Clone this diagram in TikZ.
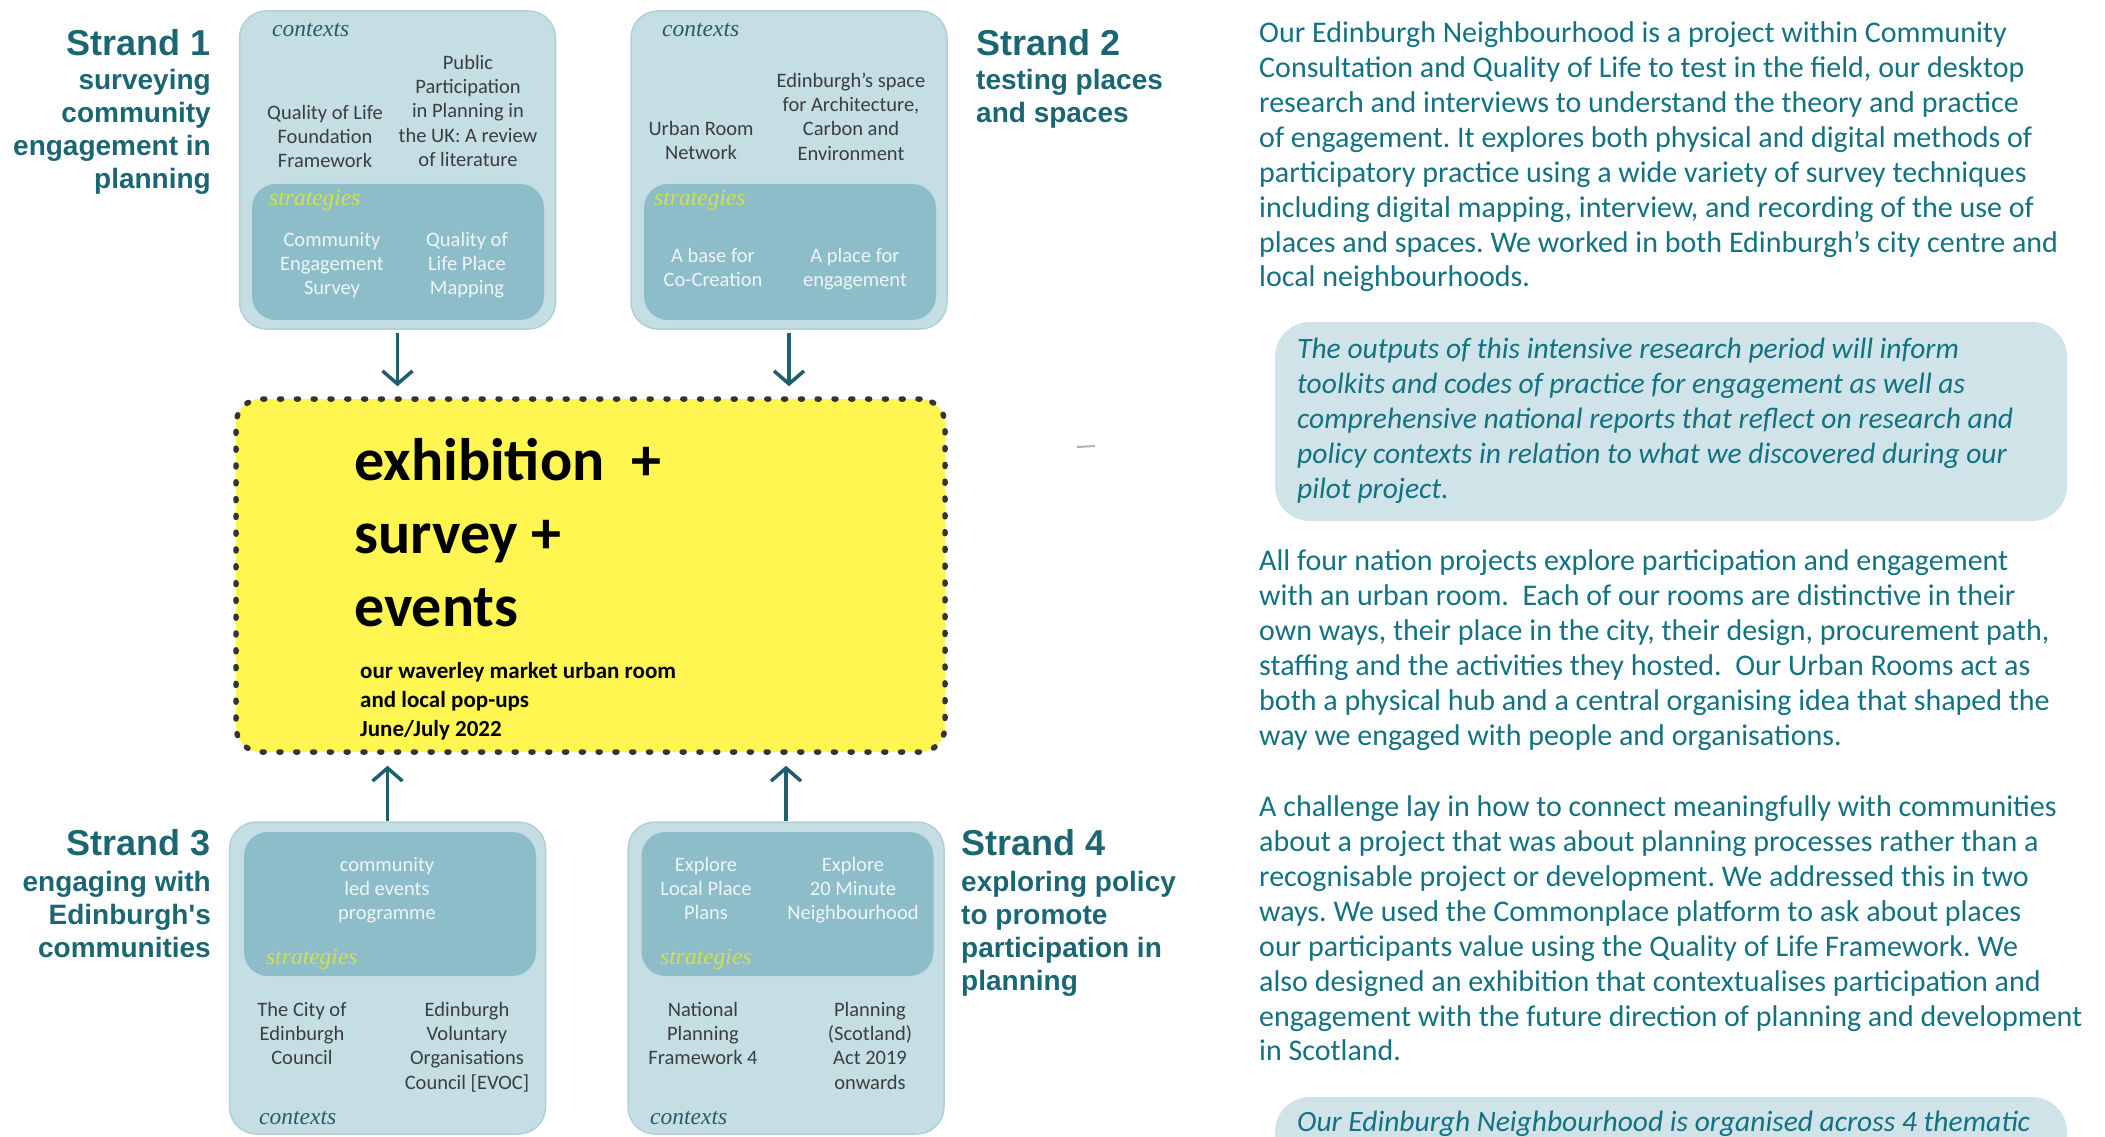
\documentclass[tikz,border=0pt]{standalone}
\usepackage{fontspec}
\setmainfont{Carlito}
\newfontfamily\strandfont{Liberation Sans}
\newfontfamily\labelfont{Liberation Serif}
\usetikzlibrary{arrows.meta}
\frenchspacing
\definecolor{outerbg}{HTML}{C5DEE4}
\definecolor{outerline}{HTML}{B2CFD6}
\definecolor{innerbg}{HTML}{8EBDCA}
\definecolor{hubyellow}{HTML}{FFF652}
\definecolor{dotgray}{HTML}{33352F}
\definecolor{quotebg}{HTML}{CFE3E8}
\definecolor{bodyteal}{HTML}{127282}
\definecolor{strandteal}{HTML}{1B6673}
\definecolor{arrowteal}{HTML}{1E5F6D}
\definecolor{ctxteal}{HTML}{2C5A68}
\definecolor{stratlime}{HTML}{D3E04B}
\definecolor{itemgray}{HTML}{3B3E3F}
\definecolor{stratwhite}{HTML}{EEF5F6}
\newcommand*{\picw  }{2105}
\newcommand*{\pich  }{1137}
\newcommand*{\boxw  }{316}
\newcommand*{\tboxh }{318}
\newcommand*{\bboxh }{312}
\newcommand*{\inw   }{292}
\newcommand*{\rad   }{27}

\begin{document}
\begin{tikzpicture}[x=1pt, y=-1pt,
    outerbox/.style={rectangle, rounded corners=\rad pt, fill=outerbg, draw=outerline, line width=1.5pt, minimum width=\boxw pt, inner sep=0pt},
    innerbox/.style={rectangle, rounded corners=24pt, fill=innerbg, minimum width=\inw pt, inner sep=0pt},
    ctxlabel/.style={anchor=west, inner sep=0pt, text=ctxteal, font=\labelfont\itshape\fontsize{23.5}{27}\selectfont},
    stratlabel/.style={ctxlabel, text=stratlime},
    ctxitem/.style={anchor=north, inner sep=0pt, align=center, text=itemgray, font=\fontsize{20.5}{24.3}\selectfont},
    stratitem/.style={ctxitem, text=stratwhite},
    hubbox/.style={rectangle, rounded corners=25pt, fill=hubyellow, draw=dotgray, line width=5.5pt, dash pattern=on 2pt off 14.8pt, line cap=round, minimum width=709pt, minimum height=353pt},
    hubtitle/.style={anchor=north west, inner sep=0pt, align=left, font=\bfseries\fontsize{60}{73}\selectfont},
    hubnote/.style={anchor=north west, inner sep=0pt, align=left, font=\bfseries\fontsize{23}{29}\selectfont},
    flow/.style={draw=arrowteal, line width=3.5pt, -{Straight Barb[length=13pt,width=30pt]}},
    strandtitle/.style={inner sep=0pt, text=strandteal, font=\strandfont\bfseries\fontsize{36}{40}\selectfont},
    strandsub/.style={inner sep=0pt, text=strandteal, font=\strandfont\bfseries\fontsize{28}{33}\selectfont},
    bodytext/.style={anchor=north west, inner sep=0pt, align=left, text=bodyteal, font=\fontsize{30}{34.9}\selectfont},
    quotetext/.style={bodytext, font=\itshape\fontsize{29.5}{34.9}\selectfont},
    quotebox/.style={rectangle, rounded corners=35pt, fill=quotebg, inner sep=0pt, minimum width=792pt}]
    \useasboundingbox (0,0) rectangle (\picw,\pich);
    \clip (0,0) rectangle (\picw,\pich);

    % strand boxes
    \node [outerbox, minimum height=\tboxh pt] (s1) at (397.5,170) {};
    \node [innerbox, minimum height=136pt] (s1in) at (398,252) {};
    \node [outerbox, minimum height=\tboxh pt] (s2) at (789,170) {};
    \node [innerbox, minimum height=136pt] (s2in) at (790,252) {};
    \node [outerbox, minimum height=\bboxh pt] (s3) at (387.5,978) {};
    \node [innerbox, minimum height=144pt] (s3in) at (390,904) {};
    \node [outerbox, minimum height=\bboxh pt] (s4) at (786,978) {};
    \node [innerbox, minimum height=144pt] (s4in) at (787.5,904) {};

    \node [ctxlabel] (s1ctx) at (272,30) {contexts};
    \node [ctxitem] (s1qol) at (325,102) {\strut Quality of Life\\Foundation\\Framework};
    \node [ctxitem] (s1ppp) at (468,52) {\strut Public\\Participation\\in Planning in\\the UK: A review\\of literature};
    \node [stratlabel] (s1str) at (269,200) {strategies};
    \node [stratitem] (s1ces) at (332,229) {\strut Community\\Engagement\\Survey};
    \node [stratitem] (s1map) at (467,229) {\strut Quality of\\Life Place\\Mapping};

    \node [ctxlabel] (s2ctx) at (662,30) {contexts};
    \node [ctxitem] (s2urn) at (701,118) {\strut Urban Room\\Network};
    \node [ctxitem] (s2ace) at (851,70) {\strut Edinburgh's space\\for Architecture,\\Carbon and\\Environment};
    \node [stratlabel] (s2str) at (654,200) {strategies};
    \node [stratitem] (s2base) at (713,245) {\strut A base for\\Co-Creation};
    \node [stratitem] (s2place) at (855,245) {\strut A place for\\engagement};

    \node [stratitem] (s3led) at (387,854) {\strut community\\led events\\programme};
    \node [stratlabel] (s3str) at (266,959) {strategies};
    \node [ctxitem] (s3cec) at (302,999) {\strut The City of\\Edinburgh\\Council};
    \node [ctxitem] (s3evoc) at (467,999) {\strut Edinburgh\\Voluntary\\Organisations\\Council [EVOC]};
    \node [ctxlabel] (s3ctx) at (259,1118) {contexts};

    \node [stratitem] (s4lpp) at (706,854) {\strut Explore\\Local Place\\Plans};
    \node [stratitem] (s4min) at (853,854) {\strut Explore\\20 Minute\\Neighbourhood};
    \node [stratlabel] (s4str) at (660,959) {strategies};
    \node [ctxitem] (s4npf) at (703,999) {\strut National\\Planning\\Framework 4};
    \node [ctxitem] (s4act) at (870,999) {\strut Planning\\(Scotland)\\Act 2019\\onwards};
    \node [ctxlabel] (s4ctx) at (650,1118) {contexts};

    % strand titles
    \node [strandtitle, anchor=east] (t1) at (211,43) {Strand 1};
    \node [strandsub, anchor=north east, align=right] (t1sub) at (211,66.4) {\strut surveying\\community\\engagement in\\planning};
    \node [strandtitle, anchor=west] (t2) at (976,43) {Strand 2};
    \node [strandsub, anchor=north west, align=left] (t2sub) at (976,66.4) {\strut testing places\\and spaces};
    \node [strandtitle, anchor=east] (t3) at (211,843) {Strand 3};
    \node [strandsub, anchor=north east, align=right] (t3sub) at (211,868) {\strut engaging with\\Edinburgh's\\communities};
    \node [strandtitle, anchor=west] (t4) at (961,843) {Strand 4};
    \node [strandsub, anchor=north west, align=left] (t4sub) at (961,868) {\strut exploring policy\\to promote\\participation in\\planning};

    % urban room hub
    \node [hubbox] (hub) at (590.5,575.5) {};
    \node [hubtitle] (hubtxt) at (354,429) {\strut exhibition~~+\\survey +\\events};
    \node [hubnote] (hubsub) at (360,658) {\strut our waverley market urban room\\and local pop-ups\\June/July 2022};

    \draw [flow, shorten <=3pt, shorten >=10pt] (s1.south) -- (s1.south |- hub.north);
    \draw [flow, shorten <=3pt, shorten >=10pt] (s2.south) -- (s2.south |- hub.north);
    \draw [flow, shorten >=11pt] (s3.north) -- (s3.north |- hub.south);
    \draw [flow, shorten >=11pt] (s4.north) -- (s4.north |- hub.south);

    \coordinate (speck) at (1077,447);
    \draw [gray!60, line width=2pt] (speck) -- ++(18,-1);

    % text column
    \node [bodytext] (para1) at (1259,18) {\strut Our Edinburgh Neighbourhood is a project within Community\\
        Consultation and Quality of Life to test in the field, our desktop\\
        research and interviews to understand the theory and practice\\
        of engagement. It explores both physical and digital methods of\\
        participatory practice using a wide variety of survey techniques\\
        including digital mapping, interview, and recording of the use of\\
        places and spaces. We worked in both Edinburgh’s city centre and\\
        local neighbourhoods.};
    \node [quotebox, minimum height=199pt] (quote1) at (1671,421.5) {};
    \node [quotetext] (quote1txt) at (1297,334) {\strut The outputs of this intensive research period will inform\\
        toolkits and codes of practice for engagement as well as\\
        comprehensive national reports that reflect on research and\\
        policy contexts in relation to what we discovered during our\\
        pilot project.};
    \node [bodytext] (para2) at (1259,546) {\strut All four nation projects explore participation and engagement\\
        with an urban room.\ \ Each of our rooms are distinctive in their\\
        own ways, their place in the city, their design, procurement path,\\
        staffing and the activities they hosted.\ \ Our Urban Rooms act as\\
        both a physical hub and a central organising idea that shaped the\\
        way we engaged with people and organisations.};
    \node [bodytext] (para3) at (1259,792) {\strut A challenge lay in how to connect meaningfully with communities\\
        about a project that was about planning processes rather than a\\
        recognisable project or development. We addressed this in two\\
        ways. We used the Commonplace platform to ask about places\\
        our participants value using the Quality of Life Framework. We\\
        also designed an exhibition that contextualises participation and\\
        engagement with the future direction of planning and development\\
        in Scotland.};
    \node [quotebox, minimum height=100pt] (quote2) at (1671,1147) {};
    \node [quotetext] (quote2txt) at (1297,1107) {\strut Our Edinburgh Neighbourhood is organised across 4 thematic};
\end{tikzpicture}
\end{document}
